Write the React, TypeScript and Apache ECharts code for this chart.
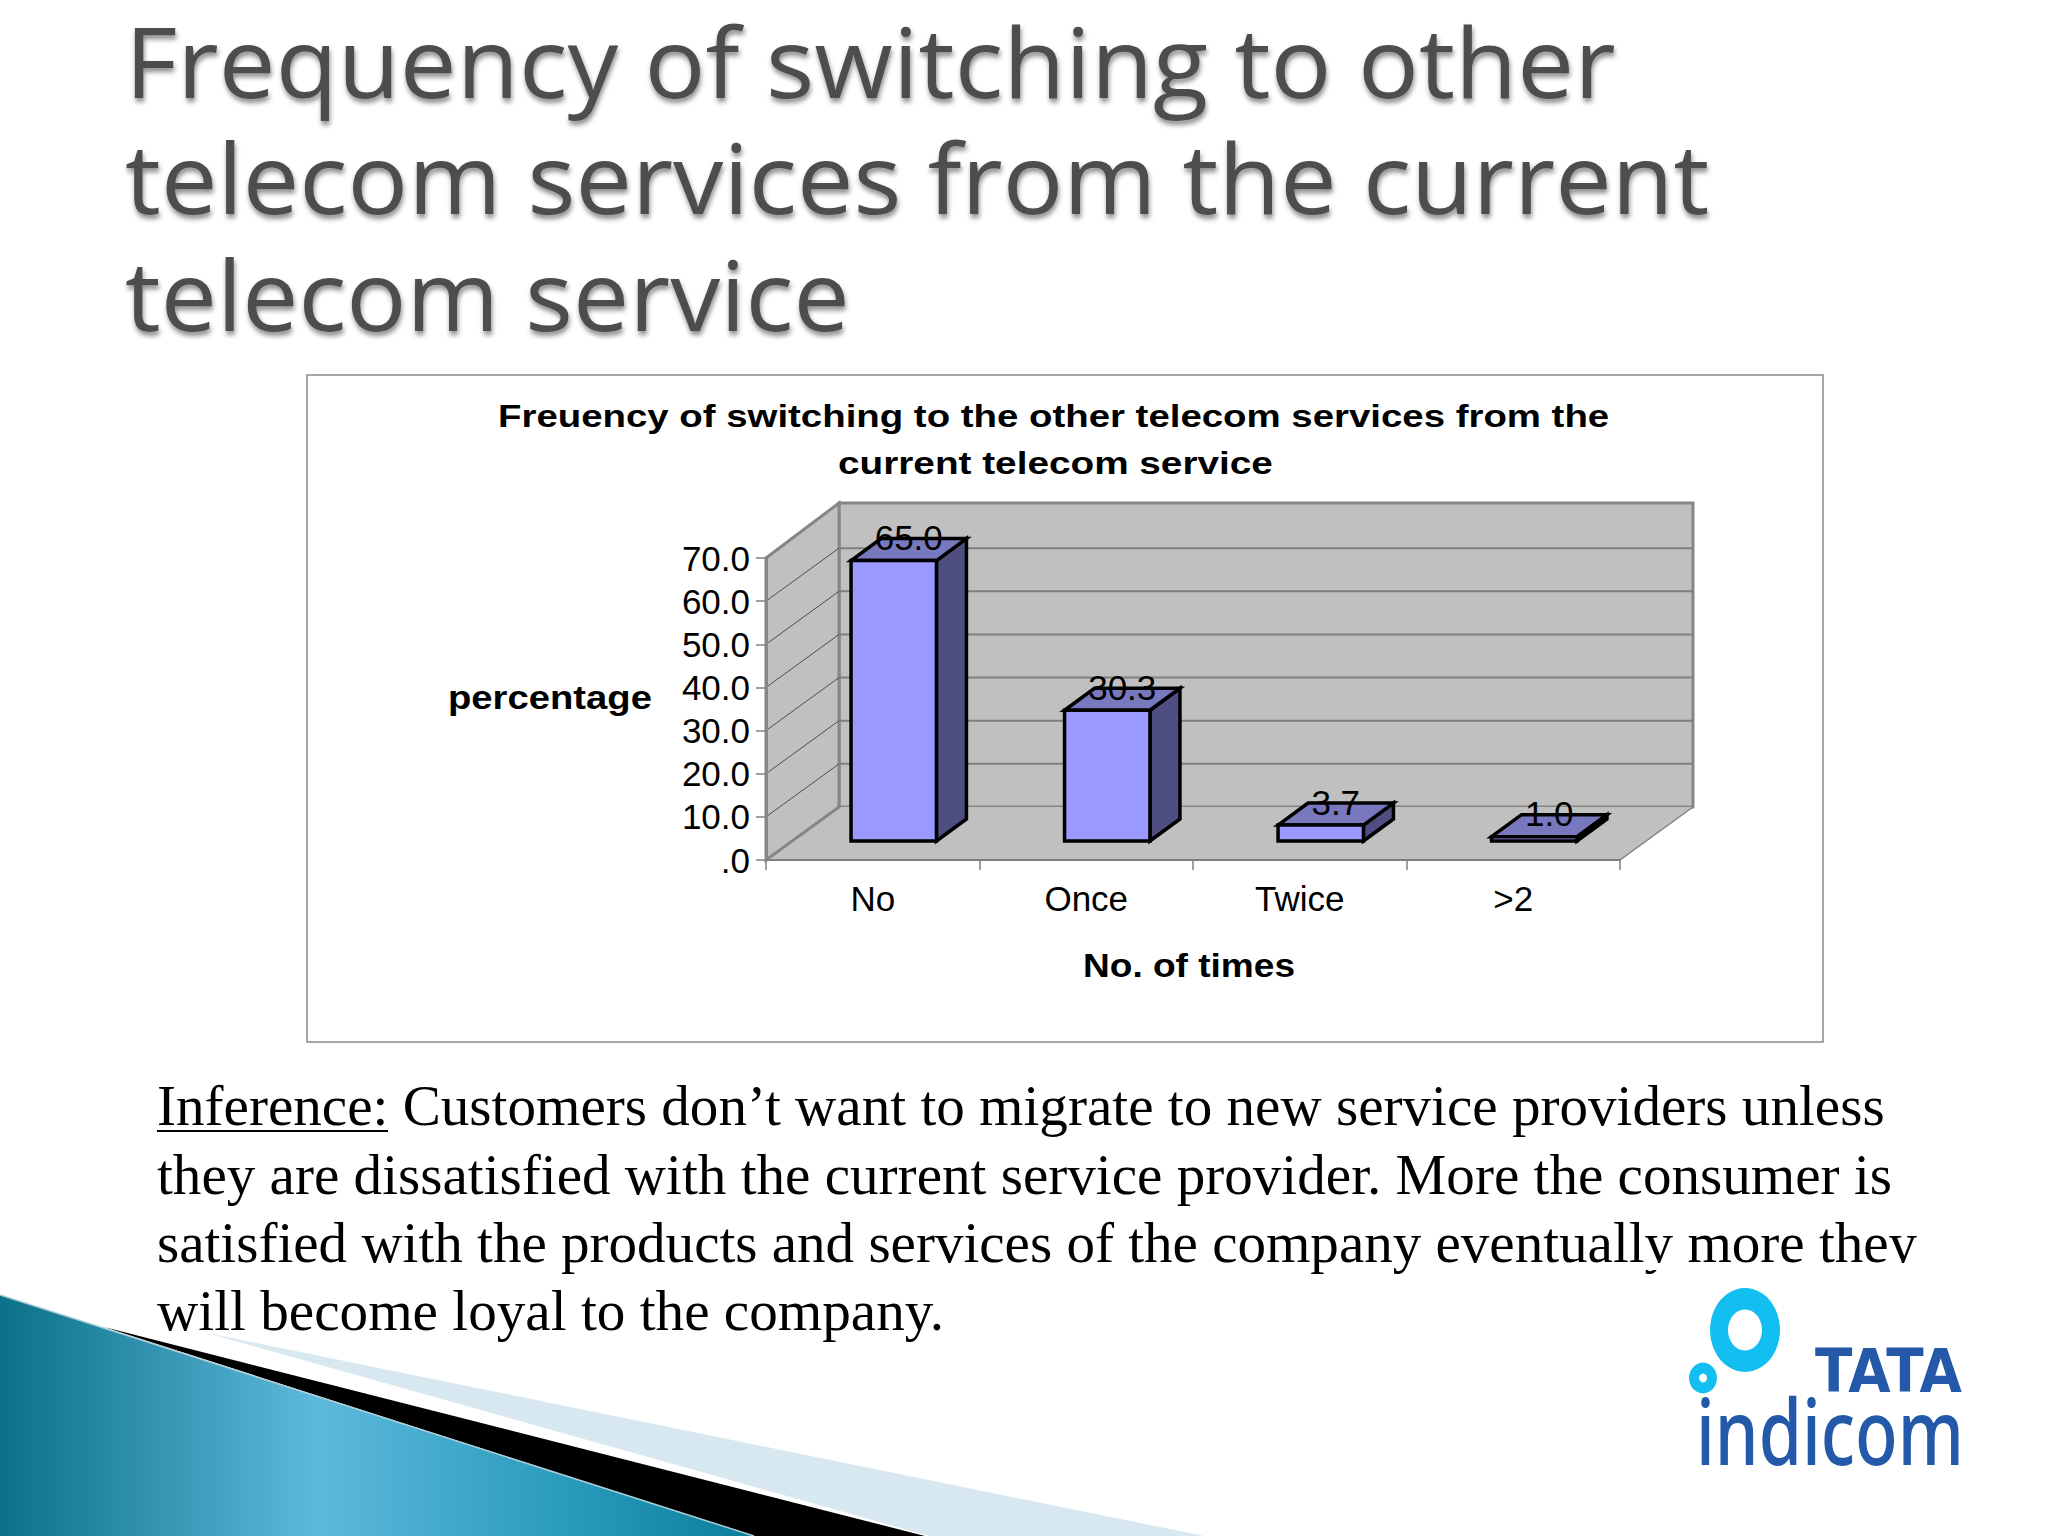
import React, { useEffect, useRef } from "react";
import * as echarts from "echarts";

const categories = ["No", "Once", "Twice", ">2"];
const percentages = [65.0, 30.3, 3.7, 1.0];
const yTicks = [0, 10, 20, 30, 40, 50, 60, 70];
const chartTitle = [
  "Freuency of switching to the other telecom services from the",
  "current telecom service",
];
const yName = "percentage";
const xName = "No. of times";
const slideTitle = [
  "Frequency of switching to other",
  "telecom services from the current",
  "telecom service",
];
const inference = [
  "Inference: Customers don’t want to migrate to new service providers unless",
  "they are dissatisfied with the current service provider. More the consumer is",
  "satisfied with the products and services of the company eventually more they",
  "will become loyal to the company.",
];

const WALL_DX = 73;
const WALL_DY = -53;
const WALL_TOP_EXTRA = -2;
const BAR_DX = 30;
const BAR_DY = -22;
const BAR_SHIFT_X = 21;
const BAR_SHIFT_Y = -19;

const measureCtx = document.createElement("canvas").getContext("2d")!;
function fit(text: string, font: string, width: number) {
  measureCtx.font = font;
  return width / measureCtx.measureText(text).width;
}
function fittedText(text: string, font: string, x: number, baseline: number, size: number, width: number, fill: string, extra: any = {}) {
  return {
    type: "text",
    x,
    y: baseline - size * 0.34,
    scaleX: fit(text, font, width),
    style: { text, font, fill, align: "left", verticalAlign: "middle", ...extra },
  };
}

function renderWalls(params: any, api: any) {
  const sys = params.coordSys;
  const v = api.value(1);
  const y = api.coord([0, v])[1];
  const left = sys.x;
  const right = sys.x + sys.width;
  const bottom = sys.y + sys.height;
  const children: any[] = [];
  if (v === 0) {
    const top = sys.y;
    const backTop = top + WALL_DY + WALL_TOP_EXTRA;
    children.push(
      {
        type: "polygon",
        shape: { points: [[left + WALL_DX, backTop], [right + WALL_DX, backTop], [right + WALL_DX, bottom + WALL_DY], [left + WALL_DX, bottom + WALL_DY]] },
        style: { fill: "#c0c0c0", stroke: "#868686", lineWidth: 3 },
      },
      {
        type: "polygon",
        shape: { points: [[left, bottom], [left + WALL_DX, bottom + WALL_DY], [right + WALL_DX, bottom + WALL_DY], [right, bottom]] },
        style: { fill: "#c0c0c0" },
      },
      {
        type: "polygon",
        shape: { points: [[left, top], [left + WALL_DX, backTop], [left + WALL_DX, bottom + WALL_DY], [left, bottom]] },
        style: { fill: "#c0c0c0", stroke: "#868686", lineWidth: 3 },
      },
      {
        type: "line",
        shape: { x1: right, y1: bottom, x2: right + WALL_DX, y2: bottom + WALL_DY },
        style: { stroke: "#808080", lineWidth: 1.5 },
      },
    );
  } else if (v < 70) {
    children.push(
      {
        type: "line",
        shape: { x1: left, y1: y, x2: left + WALL_DX, y2: y + WALL_DY },
        style: { stroke: "#4d4d4d", lineWidth: 1 },
      },
      {
        type: "line",
        shape: { x1: left + WALL_DX, y1: y + WALL_DY, x2: right + WALL_DX, y2: y + WALL_DY },
        style: { stroke: "#7f7f7f", lineWidth: 2 },
      },
    );
  }
  return { type: "group", children };
}

function renderBar(params: any, api: any) {
  const idx = api.value(0);
  const v = api.value(1);
  const band = api.size([1, 0])[0];
  const w = band * 0.4;
  const cx = api.coord([idx, 0])[0] + BAR_SHIFT_X;
  const x0 = cx - w / 2;
  const x1 = cx + w / 2;
  const yb = api.coord([idx, 0])[1] + BAR_SHIFT_Y;
  const yt = api.coord([idx, v])[1] + BAR_SHIFT_Y;
  const edge = { stroke: "#000", lineWidth: 3.5, lineJoin: "miter" };
  return {
    type: "group",
    children: [
      {
        type: "polygon",
        shape: { points: [[x1, yt], [x1 + BAR_DX, yt + BAR_DY], [x1 + BAR_DX, yb + BAR_DY], [x1, yb]] },
        style: { fill: "#4e4e80", ...edge },
      },
      {
        type: "polygon",
        shape: { points: [[x0, yt], [x0 + BAR_DX, yt + BAR_DY], [x1 + BAR_DX, yt + BAR_DY], [x1, yt]] },
        style: { fill: "#7878bf", ...edge },
      },
      {
        type: "polygon",
        shape: { points: [[x0, yb], [x0, yt], [x1, yt], [x1, yb]] },
        style: { fill: "#9999ff", ...edge },
      },
      {
        type: "text",
        x: cx + 15,
        y: yt - 23,
        z2: 10,
        style: {
          text: v.toFixed(1),
          font: '35px "Liberation Sans"',
          fill: "#000",
          align: "center",
          verticalAlign: "middle",
        },
      },
    ],
  };
}

function buildGraphics() {
  const titleFont = '500 88px "Open Sans"';
  const titleShadow = { textShadowColor: "rgba(0,0,0,0.45)", textShadowBlur: 5, textShadowOffsetX: 1, textShadowOffsetY: 4 };
  const bodyFont = '58px "Liberation Serif"';
  const boldFont = 'bold 32px "Liberation Sans"';
  const axisNameFont = 'bold 33px "Liberation Sans"';
  const titleWidths = [1491, 1584, 725];
  const titleBases = [93, 209, 327];
  const bodyWidths = [1728, 1736, 1760, 787];
  const bodyBases = [1125, 1194, 1262, 1330];
  const chartTitleX = [498, 838];
  const chartTitleW = [1112, 435];
  const chartTitleBases = [427, 474];
  const tataFont = 'bold 60px "DejaVu Sans"';
  const indiFont = '500 90px "Noto Sans"';
  const elements: any[] = [
    {
      type: "polygon",
      shape: { points: [[207, 1333], [1204, 1536], [929, 1536]] },
      style: { fill: "#d8e8f0" },
    },
    {
      type: "polygon",
      shape: { points: [[104, 1327], [925, 1536], [754, 1536]] },
      style: { fill: "#000" },
    },
    {
      type: "polygon",
      shape: { points: [[0, 1295], [104, 1328], [754, 1536], [0, 1536]] },
      style: {
        fill: new echarts.graphic.LinearGradient(0, 0, 1, 0, [
          { offset: 0, color: "#0b7188" },
          { offset: 0.42, color: "#5db9dc" },
          { offset: 0.75, color: "#2a9bbb" },
          { offset: 1, color: "#0c7d9a" },
        ]),
      },
    },
    { type: "line", shape: { x1: 0, y1: 1295, x2: 754, y2: 1536 }, style: { stroke: "#a9cdd8", lineWidth: 1.5 } },
    {
      type: "rect",
      shape: { x: 307, y: 375, width: 1516, height: 667 },
      style: { fill: "#fff", stroke: "#8a8a8a", lineWidth: 1.5 },
    },
  ];
  slideTitle.forEach((t, i) => {
    elements.push({
      ...fittedText(t, titleFont, 125, titleBases[i], 97, titleWidths[i], "#4d4d4d", titleShadow),
      scaleY: 1.1,
    });
  });
  chartTitle.forEach((t, i) => {
    elements.push(fittedText(t, boldFont, chartTitleX[i], chartTitleBases[i], 32, chartTitleW[i], "#000"));
  });
  elements.push(
    fittedText(yName, axisNameFont, 448, 709, 33, 204, "#000"),
    fittedText(xName, axisNameFont, 1083, 976, 33, 212, "#000"),
  );
  inference.forEach((t, i) => {
    elements.push(fittedText(t, bodyFont, 157, bodyBases[i], 58, bodyWidths[i], "#000"));
  });
  elements.push(
    { type: "line", shape: { x1: 157, y1: 1131, x2: 388, y2: 1131 }, style: { stroke: "#000", lineWidth: 2 } },
    { type: "rect", shape: { x: 1640, y: 1263, width: 60, height: 7 }, style: { fill: "#fff" } },
    { type: "rect", shape: { x: 1860, y: 1263, width: 70, height: 14 }, style: { fill: "#fff" } },
    { type: "ring", x: 1745, y: 1330, scaleX: 1, scaleY: 1.2, shape: { cx: 0, cy: 0, r: 35, r0: 17 }, style: { fill: "#12bff0" } },
    { type: "ring", x: 1703, y: 1378, scaleX: 1, scaleY: 1.1, shape: { cx: 0, cy: 0, r: 14, r0: 4 }, style: { fill: "#12bff0" } },
    fittedText("TATA", tataFont, 1815, 1392, 60, 147, "#2458a8"),
    fittedText("indicom", indiFont, 1696, 1461, 90, 268, "#2458a8"),
  );
  return elements;
}

export default function App() {
  const ref = useRef<HTMLDivElement>(null);
  useEffect(() => {
    const chart = echarts.init(ref.current!, null, { renderer: "svg" });
    chart.setOption({
      animation: false,
      backgroundColor: "#fff",
      grid: { left: 766, top: 558, width: 854, height: 302, containLabel: false },
      xAxis: {
        type: "category",
        data: categories,
        z: 4,
        axisLine: { lineStyle: { color: "#808080", width: 2 } },
        axisTick: { show: true, length: 10, lineStyle: { color: "#808080", width: 1.5 } },
        axisLabel: { fontFamily: "Liberation Sans", fontSize: 35, color: "#000", margin: 21 },
        splitLine: { show: false },
      },
      yAxis: {
        type: "value",
        min: 0,
        max: 70,
        interval: 10,
        z: 4,
        axisLine: { show: true, lineStyle: { color: "#868686", width: 3 } },
        axisTick: { show: true, length: 10, lineStyle: { color: "#808080", width: 1.5 } },
        axisLabel: {
          fontFamily: "Liberation Sans",
          fontSize: 35,
          color: "#000",
          margin: 16,
          formatter: (v: number) => (v === 0 ? ".0" : v.toFixed(1)),
        },
        splitLine: { show: false },
      },
      graphic: { elements: buildGraphics() },
      series: [
        {
          type: "custom",
          z: 1,
          clip: false,
          silent: true,
          encode: { x: 0, y: 1 },
          data: yTicks.map((t) => [0, t]),
          renderItem: renderWalls,
        },
        {
          type: "custom",
          z: 5,
          clip: false,
          encode: { x: 0, y: 1 },
          data: percentages.map((p, i) => [i, p]),
          renderItem: renderBar,
        },
      ],
    });
    return () => chart.dispose();
  }, []);
  return <div ref={ref} style={{ position: "absolute", left: 0, top: 0, width: 2048, height: 1536 }} />;
}
